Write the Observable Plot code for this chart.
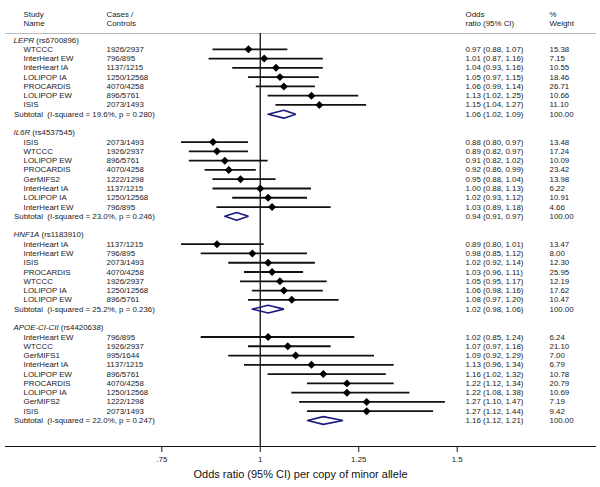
<!DOCTYPE html>
<html>
<head>
<meta charset="utf-8">
<script src="https://cdn.jsdelivr.net/npm/d3@7"></script>
<script src="https://cdn.jsdelivr.net/npm/@observablehq/plot@0.6"></script>
<style>
  html, body { margin: 0; padding: 0; background: #fff; }
</style>
</head>
<body>
<div id="chart"></div>
<script>
// ---- Data ----
const genes = ["LEPR", "IL6R", "HNF1A", "APOE-CI-CII"];
const snps = ["rs6700896", "rs4537545", "rs1183910", "rs4420638"];

const studyGene = [
  "LEPR","LEPR","LEPR","LEPR","LEPR","LEPR","LEPR",
  "IL6R","IL6R","IL6R","IL6R","IL6R","IL6R","IL6R","IL6R",
  "HNF1A","HNF1A","HNF1A","HNF1A","HNF1A","HNF1A","HNF1A",
  "APOE-CI-CII","APOE-CI-CII","APOE-CI-CII","APOE-CI-CII","APOE-CI-CII","APOE-CI-CII","APOE-CI-CII","APOE-CI-CII","APOE-CI-CII"
];
const studyNames = [
  "WTCCC","InterHeart EW","InterHeart IA","LOLIPOP IA","PROCARDIS","LOLIPOP EW","ISIS",
  "ISIS","WTCCC","LOLIPOP EW","PROCARDIS","GerMIFS2","InterHeart IA","LOLIPOP IA","InterHeart EW",
  "InterHeart IA","InterHeart EW","ISIS","PROCARDIS","WTCCC","LOLIPOP IA","LOLIPOP EW",
  "InterHeart EW","WTCCC","GerMIFS1","InterHeart IA","LOLIPOP EW","PROCARDIS","LOLIPOP IA","GerMIFS2","ISIS"
];
const casesControls = [
  "1926/2937","796/895","1137/1215","1250/12568","4070/4258","896/5761","2073/1493",
  "2073/1493","1926/2937","896/5761","4070/4258","1222/1298","1137/1215","1250/12568","796/895",
  "1137/1215","796/895","2073/1493","4070/4258","1926/2937","1250/12568","896/5761",
  "796/895","1926/2937","995/1644","1137/1215","896/5761","4070/4258","1250/12568","1222/1298","2073/1493"
];
const oddsRatio = [
  0.97,1.01,1.04,1.05,1.06,1.13,1.15,
  0.88,0.89,0.91,0.92,0.95,1.00,1.02,1.03,
  0.89,0.98,1.02,1.03,1.05,1.06,1.08,
  1.02,1.07,1.09,1.13,1.16,1.22,1.22,1.27,1.27
];
const ciLow = [
  0.88,0.87,0.93,0.97,0.99,1.02,1.04,
  0.80,0.82,0.82,0.86,0.88,0.88,0.93,0.89,
  0.80,0.85,0.92,0.96,0.95,0.98,0.97,
  0.85,0.97,0.92,0.96,1.02,1.12,1.08,1.10,1.12
];
const ciHigh = [
  1.07,1.16,1.16,1.15,1.14,1.25,1.27,
  0.97,0.97,1.02,0.99,1.04,1.13,1.12,1.18,
  1.01,1.12,1.14,1.11,1.17,1.16,1.20,
  1.24,1.18,1.29,1.34,1.32,1.34,1.38,1.47,1.44
];
const weights = [
  15.38,7.15,10.55,18.46,26.71,10.66,11.10,
  13.48,17.24,10.09,23.42,13.98,6.22,10.91,4.66,
  13.47,8.00,12.30,25.95,12.19,17.62,10.47,
  6.24,21.10,7.00,6.79,10.78,20.79,10.69,7.19,9.42
];

const subISquared = ["19.6%", "23.0%", "25.2%", "22.0%"];
const subP = ["0.280", "0.246", "0.236", "0.247"];
const subOR = [1.06, 0.94, 1.02, 1.16];
const subLow = [1.02, 0.91, 0.98, 1.12];
const subHigh = [1.09, 0.97, 1.06, 1.21];
const subWeight = [100.00, 100.00, 100.00, 100.00];

const xTicks = [0.75, 1, 1.25, 1.5];
const xTitle = "Odds ratio (95% CI) per copy of minor allele";
const colHeaders = [
  {text: "Study\nName", col: "name"},
  {text: "Cases /\nControls", col: "cases"},
  {text: "Odds\nratio (95% CI)", col: "or"},
  {text: "%\nWeight", col: "wt"}
];

// ---- Build table rows ----
const f2 = d3.format(".2f");
const headerRows = [], studyRows = [], subRows = [], diamondPts = [];
let r = 0;
genes.forEach((g, gi) => {
  headerRows.push({row: r, text: `${g} (${snps[gi]})`});
  r++;
  studyGene.forEach((sg, i) => {
    if (sg !== g) return;
    studyRows.push({
      row: r, name: studyNames[i], cases: casesControls[i],
      est: oddsRatio[i], lo: ciLow[i], hi: ciHigh[i],
      orText: `${f2(oddsRatio[i])} (${f2(ciLow[i])}, ${f2(ciHigh[i])})`,
      wtText: f2(weights[i])
    });
    r++;
  });
  subRows.push({
    row: r,
    label: `Subtotal\u00a0 (I-squared = ${subISquared[gi]}, p = ${subP[gi]})`,
    orText: `${f2(subOR[gi])} (${f2(subLow[gi])}, ${f2(subHigh[gi])})`,
    wtText: f2(subWeight[gi])
  });
  const h = 0.42;
  [[subLow[gi], r], [subOR[gi], r - h], [subHigh[gi], r], [subOR[gi], r + h], [subLow[gi], r]]
    .forEach(([x, y]) => diamondPts.push({x, y, g}));
  r++;
  r++; // blank spacer row
});
const lastRow = r - 2;

// ---- Layout (pixels) ----
const colDx = {group: 8, name: 18, cases: 101, or: 460, wt: 544};
const textColor = "#1a1a1a";
const fs = 7.9;

const chart = Plot.plot({
  width: 600,
  height: 487,
  marginTop: 33,
  marginBottom: 41,
  marginLeft: 5,
  marginRight: 5,
  style: {fontFamily: "'Liberation Sans', Arial, sans-serif", fontSize: "8px", color: textColor, background: "#fff"},
  x: {domain: [0.75, 1.5], range: [161.3, 456.7]},
  y: {domain: [0, lastRow], range: [39.5, 420], axis: null},
  marks: [
    Plot.frame({anchor: "top", stroke: "#bbb", strokeWidth: 1}),
    Plot.frame({anchor: "bottom", stroke: "#111", strokeWidth: 1.2}),
    Plot.ruleX([1], {stroke: "#111", strokeWidth: 1.3}),
    // column headers
    ...colHeaders.map(c => Plot.text([c], {text: "text", frameAnchor: "top-left", lineAnchor: "middle", dx: colDx[c.col], dy: -15, lineHeight: 1.17, textAnchor: "start", fill: textColor, fontSize: fs})),
    // group headers
    Plot.text(headerRows, {y: "row", text: "text", frameAnchor: "left", dx: colDx.group, textAnchor: "start", fill: textColor, fontSize: fs}),
    // study rows text
    Plot.text(studyRows, {y: "row", text: "name", frameAnchor: "left", dx: colDx.name, textAnchor: "start", fill: textColor, fontSize: fs}),
    Plot.text(studyRows, {y: "row", text: "cases", frameAnchor: "left", dx: colDx.cases, textAnchor: "start", fill: textColor, fontSize: fs}),
    Plot.text(studyRows, {y: "row", text: "orText", frameAnchor: "left", dx: colDx.or, textAnchor: "start", fill: textColor, fontSize: fs}),
    Plot.text(studyRows, {y: "row", text: "wtText", frameAnchor: "left", dx: colDx.wt, textAnchor: "start", fill: textColor, fontSize: fs}),
    // subtotal text
    Plot.text(subRows, {y: "row", text: "label", frameAnchor: "left", dx: colDx.group + 0.5, textAnchor: "start", fill: textColor, fontSize: fs}),
    Plot.text(subRows, {y: "row", text: "orText", frameAnchor: "left", dx: colDx.or, textAnchor: "start", fill: textColor, fontSize: fs}),
    Plot.text(subRows, {y: "row", text: "wtText", frameAnchor: "left", dx: colDx.wt, textAnchor: "start", fill: textColor, fontSize: fs}),
    // CI lines and point estimates
    Plot.ruleY(studyRows, {y: "row", x1: "lo", x2: "hi", stroke: "#111", strokeWidth: 1.8}),
    Plot.dot(studyRows, {x: "est", y: "row", symbol: "diamond2", r: 3.6, fill: "#000", stroke: "none"}),
    // subtotal diamonds
    Plot.line(diamondPts, {x: "x", y: "y", z: "g", stroke: "#1a1a80", strokeWidth: 1.6, fill: "none", strokeLinejoin: "miter"}),
    // axis
    Plot.axisX({ticks: xTicks, tickFormat: d => d === 1 ? "1" : d3.format(".2~f")(d).replace(/^0/, ""), tickSize: 6, tickPadding: 4, fontSize: fs, label: null, stroke: "#111", fill: textColor}),
    Plot.text([xTitle], {text: d => d, frameAnchor: "bottom", dy: 31, fontSize: 11, fill: "#111"})
  ]
});

// italicize gene names in group headers
const geneRe = new RegExp("^(" + genes.map(g => g.replace(/[-]/g, "\\-")).join("|") + ") \\(");
chart.querySelectorAll("text").forEach(t => {
  const s = t.textContent;
  if (!geneRe.test(s) || t.children.length) return;
  const i = s.indexOf(" ");
  const gene = s.slice(0, i), rest = s.slice(i);
  t.textContent = "";
  const ns = "http://www.w3.org/2000/svg";
  const a = document.createElementNS(ns, "tspan");
  a.setAttribute("font-style", "italic");
  a.textContent = gene;
  const b = document.createElementNS(ns, "tspan");
  b.textContent = rest;
  t.appendChild(a); t.appendChild(b);
});

document.getElementById("chart").appendChild(chart);
</script>
</body>
</html>
